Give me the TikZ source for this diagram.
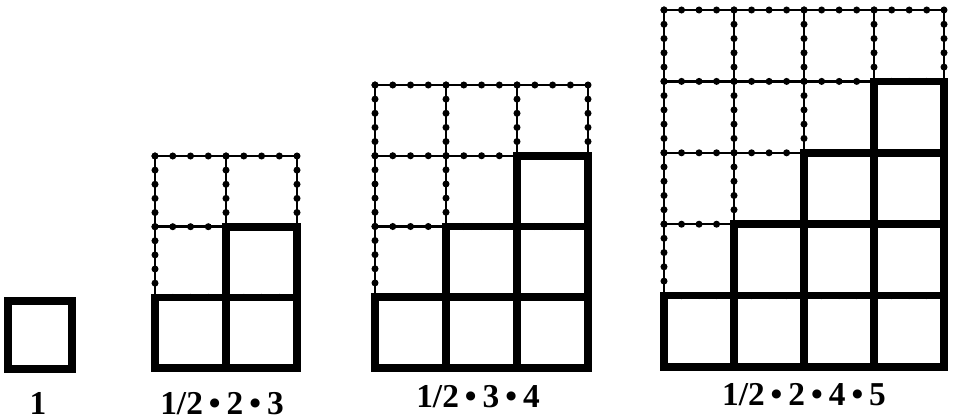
\documentclass[tikz,border=0pt]{standalone}
\usepackage{fontspec}
\setmainfont{Liberation Serif}
\tikzset{
  solidcell/.style={draw, line width=4.4pt, line join=miter},
  dotrule/.style={draw, line width=1.4pt,
    postaction={draw, line width=4pt, line cap=round, dash pattern=on 0pt off #1}},
  sumlabel/.style={font=\fontsize{19}{22}\selectfont\bfseries, inner sep=0pt, anchor=base},
}
\newcommand{\dotsep}{\hspace{0.18em}\textbullet\hspace{0.18em}}

\begin{document}
\begin{tikzpicture}[x=0.02cm, y=-0.02cm]
  \useasboundingbox (0,0) rectangle (956,419);
  % the single square
  \draw[solidcell] (8,301) rectangle (72,369);
  % staircases: columns / left / top / cell width / cell height
  \foreach \n/\xl/\yt/\cw/\ch in {2/155/156/71/70.7, 3/375/85/71/70.75, 4/664/10/70/71.4} {
    \pgfmathtruncatemacro{\m}{\n+1}
    \pgfmathsetmacro{\xr}{\xl+\n*\cw}
    \pgfmathsetmacro{\yb}{\yt+\m*\ch}
    \pgfmathsetlengthmacro{\hgap}{\cw*0.005cm}
    \pgfmathsetlengthmacro{\vgap}{\ch*0.004cm}
    % dotted grid
    \foreach \j in {0,...,\m}
      \draw[dotrule=\hgap] ({\xl},{\yt+\j*\ch}) -- ({\xr},{\yt+\j*\ch});
    \foreach \i in {0,...,\n}
      \draw[dotrule=\vgap] ({\xl+\i*\cw},{\yt}) -- ({\xl+\i*\cw},{\yb});
    % heavy cells of the staircase
    \foreach \i in {1,...,\n}
      \foreach \j in {1,...,\i}
        \draw[solidcell] ({\xl+(\i-1)*\cw},{\yb-(\j-1)*\ch}) rectangle ++(\cw,-\ch);
  }
  \node[sumlabel] (sumone) at (38,414) {1};
  \node[sumlabel] (sumtwo) at (222,414) {1/2\dotsep 2\dotsep 3};
  \node[sumlabel] (sumthree) at (478,407) {1/2\dotsep 3\dotsep 4};
  \node[sumlabel] (sumfour) at (804,405) {1/2\dotsep 2\dotsep 4\dotsep 5};
\end{tikzpicture}
\end{document}
